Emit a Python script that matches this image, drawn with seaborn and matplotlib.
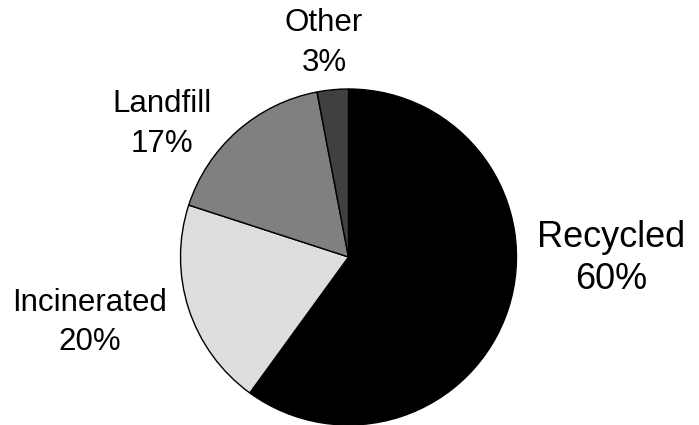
import matplotlib
matplotlib.use('Agg')
import matplotlib.pyplot as plt
import seaborn as sns

# Waste shares, clockwise from 12 o'clock
categories = ['Recycled', 'Incinerated', 'Landfill', 'Other']
shares = [60, 20, 17, 3]
colors = ['#000000', '#dedede', '#808080', '#404040']

sns.set_theme(style='white')
plt.rcParams['font.family'] = ['Liberation Sans', 'DejaVu Sans']

fig = plt.figure(figsize=(6.99, 4.25), dpi=100)
ax = fig.add_axes([0, 0, 1, 1])

labels = [f'{c}\n{v}%' for c, v in zip(categories, shares)]
wedges, texts = ax.pie(shares, colors=colors, labels=labels, startangle=90,
                       counterclock=False,
                       wedgeprops=dict(edgecolor='black', linewidth=1.0),
                       textprops=dict(color='black', fontsize=22.5,
                                      ha='center', va='center', linespacing=1.4))

# label placement (data units, pie radius = 1)
label_pos = [(1.565, -0.01), (-1.542, -0.39), (-1.11, 0.792), (-0.146, 1.274)]
for t, (x, y) in zip(texts, label_pos):
    t.set_position((x, y))
    t.set_horizontalalignment('center')
    t.set_verticalalignment('center')
texts[0].set_fontsize(26)
texts[0].set_linespacing(1.25)

# pie centre at (348.5, 257) px, radius 168 px
scale = 168.0
ax.set_xlim(-348.5 / scale, (699 - 348.5) / scale)
ax.set_ylim(-(425 - 257) / scale, 257 / scale)
ax.axis('off')

fig.savefig('out.png', dpi=100)
